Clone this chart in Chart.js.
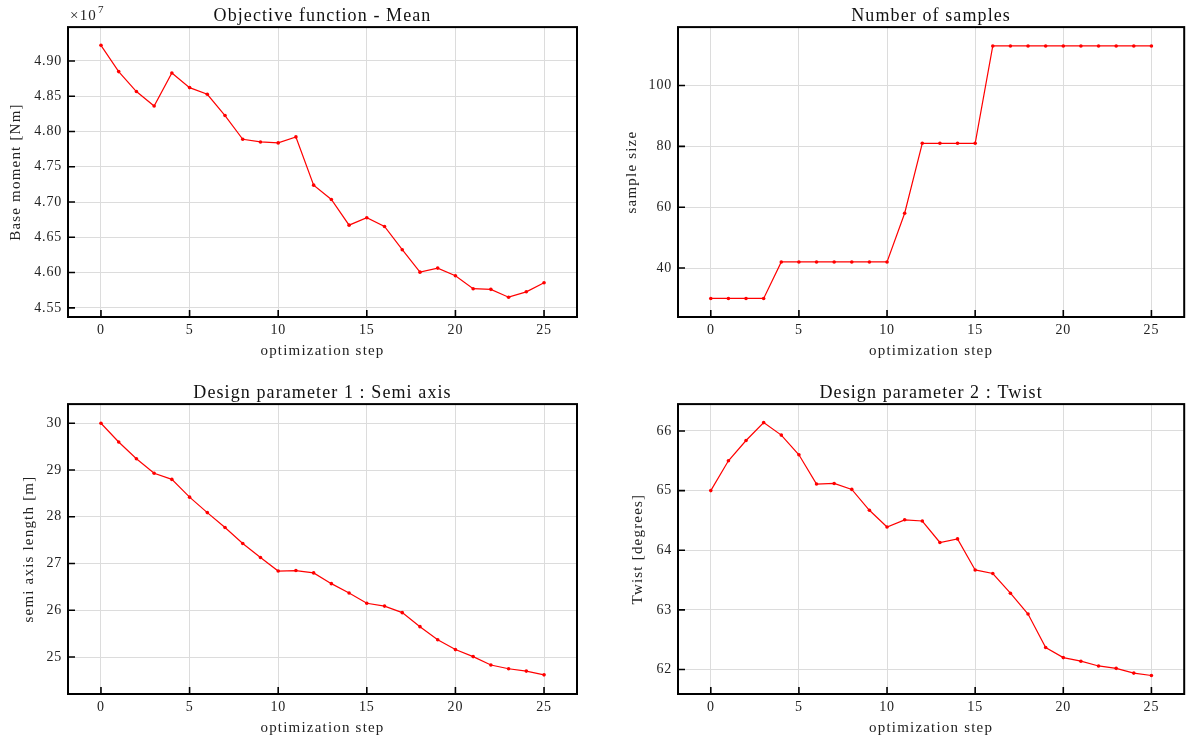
<!DOCTYPE html>
<html>
<head>
<meta charset="utf-8">
<script src="https://cdn.jsdelivr.net/npm/chart.js@4.4.1/dist/chart.umd.min.js"></script>
<style>
  body { margin: 0; background: #fff; width: 1186px; height: 738px; overflow: hidden; position: relative; }
  canvas { position: absolute; }
</style>
</head>
<body>
<canvas id="c1" width="580" height="369" style="left:0;top:0"></canvas>
<canvas id="c2" width="576" height="369" style="left:610px;top:0"></canvas>
<canvas id="c3" width="580" height="361" style="left:0;top:377px"></canvas>
<canvas id="c4" width="576" height="361" style="left:610px;top:377px"></canvas>
<script>
// optimisation history
const steps = [0, 1, 2, 3, 4, 5, 6, 7, 8, 9, 10, 11, 12, 13, 14, 15, 16, 17, 18, 19, 20, 21, 22, 23, 24, 25];

const baseMoment = [49222000, 48849000, 48566000, 48362000, 48830000, 48622000, 48528000, 48226000,
  47890000, 47852000, 47838000, 47923000, 47239000, 47036000, 46672000, 46777000, 46654000,
  46324000, 46006000, 46063000, 45955000, 45771000, 45762000, 45651000, 45727000, 45855000];

const sampleSize = [30, 30, 30, 30, 42, 42, 42, 42, 42, 42, 42, 58, 81, 81, 81, 81,
  113, 113, 113, 113, 113, 113, 113, 113, 113, 113];

const semiAxis = [30.00, 29.60, 29.24, 28.93, 28.80, 28.42, 28.09, 27.77, 27.43, 27.13, 26.84, 26.85,
  26.80, 26.57, 26.37, 26.15, 26.09, 25.95, 25.65, 25.37, 25.16, 25.01, 24.83, 24.75, 24.70, 24.62];

const twist = [65.00, 65.50, 65.84, 66.14, 65.93, 65.60, 65.11, 65.12, 65.02, 64.67, 64.39, 64.51,
  64.49, 64.13, 64.19, 63.67, 63.61, 63.28, 62.93, 62.37, 62.20, 62.14, 62.06, 62.02, 61.94, 61.90];

// tick positions
const xTickVals = [0, 5, 10, 15, 20, 25];
const momentTicks = [45500000, 46000000, 46500000, 47000000, 47500000, 48000000, 48500000, 49000000];
const sampleTicks = [40, 60, 80, 100];
const semiTicks = [25, 26, 27, 28, 29, 30];
const twistTicks = [62, 63, 64, 65, 66];

const FONT = '"Liberation Serif", "DejaVu Serif", serif';
const TXT = '#222';
const GRID = '#dcdcdc';
// the original was set in Computer Modern, which runs wider: space the letters out by font size
const SPACING = { 18: 1.1, 15: 1.2, 14: 0.8, 11: 0.5 };

function spaceLetters(canvas) {
  const ctx = canvas.getContext('2d');
  const fill = ctx.fillText.bind(ctx);
  ctx.fillText = function (text, x, y, maxWidth) {
    const m = /(\d+(?:\.\d+)?)px/.exec(this.font);
    this.letterSpacing = ((m && SPACING[parseFloat(m[1])]) || 0) + 'px';
    if (maxWidth === undefined) fill(text, x, y);
    else fill(text, x, y, maxWidth);
  };
  return ctx;
}

// black box round the plot + inward major ticks on left/bottom
const frame = {
  id: 'frame',
  afterDraw(chart) {
    const { ctx, chartArea: a, scales: { x, y } } = chart;
    ctx.save();
    ctx.strokeStyle = '#000';
    ctx.lineWidth = 1.6;
    ctx.beginPath();
    x.ticks.forEach(t => {
      const px = x.getPixelForValue(t.value);
      ctx.moveTo(px, a.bottom);
      ctx.lineTo(px, a.bottom - 7);
    });
    y.ticks.forEach(t => {
      const py = y.getPixelForValue(t.value);
      ctx.moveTo(a.left, py);
      ctx.lineTo(a.left + 7, py);
    });
    ctx.stroke();
    ctx.lineWidth = 2;
    ctx.strokeRect(a.left, a.top, a.right - a.left, a.bottom - a.top);
    const exp = chart.options.plugins.frame.exponent;
    if (exp) {
      ctx.fillStyle = TXT;
      ctx.textBaseline = 'alphabetic';
      ctx.font = '15px ' + FONT;
      ctx.fillText('\u00d710', a.left + 2, a.top - 7);
      const w = ctx.measureText('\u00d710').width;
      ctx.font = '11px ' + FONT;
      ctx.fillText(exp, a.left + 3 + w, a.top - 14);
    }
    ctx.restore();
  }
};

function makeChart(id, values, cfg) {
  const ctx = spaceLetters(document.getElementById(id));
  return new Chart(ctx, {
    type: 'line',
    data: {
      datasets: [{
        data: steps.map((s, i) => ({ x: s, y: values[i] })),
        borderColor: '#ff0000',
        backgroundColor: '#ff0000',
        borderWidth: 1.2,
        pointRadius: 1.8,
        pointHoverRadius: 1.8,
        pointBorderWidth: 0,
        tension: 0
      }]
    },
    options: {
      responsive: false,
      animation: false,
      events: [],
      layout: { padding: { left: 0, right: cfg.padRight, top: 0, bottom: 0 } },
      plugins: {
        legend: { display: false },
        tooltip: { enabled: false },
        frame: { exponent: cfg.exponent },
        title: {
          display: true,
          text: cfg.title,
          fullSize: false,
          color: '#111',
          font: { family: FONT, size: 18, weight: 'normal' },
          padding: { top: 5.5, bottom: 0 }
        }
      },
      scales: {
        x: {
          type: 'linear',
          min: -1.86,
          max: 26.86,
          afterFit: s => { s.height = cfg.xh; },
          afterBuildTicks: s => { s.ticks = xTickVals.map(v => ({ value: v })); },
          grid: { color: GRID, drawTicks: false },
          border: { display: false },
          ticks: { color: TXT, font: { family: FONT, size: 14 }, padding: 5, maxRotation: 0, autoSkip: false },
          title: {
            display: true,
            text: 'optimization step',
            color: TXT,
            font: { family: FONT, size: 15 },
            padding: { top: 0, bottom: cfg.xtPad }
          }
        },
        y: {
          type: 'linear',
          min: cfg.min,
          max: cfg.max,
          afterFit: s => { s.width = 68; },
          afterBuildTicks: s => { s.ticks = cfg.ticks.map(v => ({ value: v })); },
          grid: { color: GRID, drawTicks: false },
          border: { display: false },
          ticks: { color: TXT, font: { family: FONT, size: 14 }, padding: 6, autoSkip: false, callback: cfg.fmt },
          title: {
            display: true,
            text: cfg.ytitle,
            color: TXT,
            font: { family: FONT, size: 15 },
            padding: { top: cfg.ytPad, bottom: 0 }
          }
        }
      }
    },
    plugins: [frame]
  });
}

makeChart('c1', baseMoment, {
  title: 'Objective function - Mean', ytitle: 'Base moment [Nm]', exponent: '7',
  min: 45370000, max: 49480000, ticks: momentTicks, fmt: v => (v / 1e7).toFixed(2),
  padRight: 3, xh: 52, xtPad: 9, ytPad: 7
});
makeChart('c2', sampleSize, {
  title: 'Number of samples', ytitle: 'sample size',
  min: 23.9, max: 119.2, ticks: sampleTicks, fmt: v => String(v),
  padRight: 0, xh: 52, xtPad: 9, ytPad: 13
});
makeChart('c3', semiAxis, {
  title: 'Design parameter 1 : Semi axis', ytitle: 'semi axis length [m]',
  min: 24.21, max: 30.41, ticks: semiTicks, fmt: v => String(v),
  padRight: 3, xh: 44, xtPad: 1, ytPad: 20
});
makeChart('c4', twist, {
  title: 'Design parameter 2 : Twist', ytitle: 'Twist [degrees]',
  min: 61.59, max: 66.45, ticks: twistTicks, fmt: v => String(v),
  padRight: 0, xh: 44, xtPad: 1, ytPad: 19
});
</script>
</body>
</html>
